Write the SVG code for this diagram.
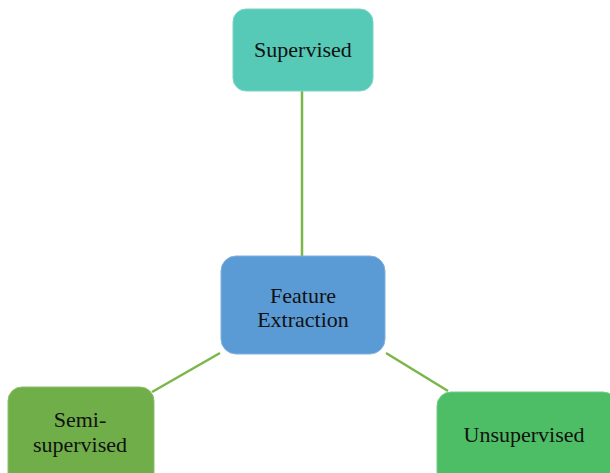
<svg xmlns="http://www.w3.org/2000/svg" width="610" height="473" viewBox="0 0 610 473">
<style>
.lbl{font-family:"Liberation Serif","Times New Roman",serif;font-size:22px;fill:#111;text-anchor:middle}
.conn{stroke:#7AB648;stroke-width:2.5;fill:none}
</style>
<rect width="610" height="473" fill="#fff"/>
<g id="connectors">
<line class="conn" x1="302" y1="91" x2="302" y2="256"/>
<line class="conn" x1="220" y1="353" x2="152" y2="392"/>
<line class="conn" x1="386" y1="353" x2="448" y2="391"/>
</g>
<g id="supervised">
<rect x="233" y="9" width="140" height="82" rx="13" fill="#56CAB6" stroke="#7AD6C6" stroke-width="1"/>
<text class="lbl" x="303" y="57">Supervised</text>
</g>
<g id="feature-extraction">
<rect x="221" y="256" width="164" height="98" rx="15" fill="#5B9BD5" stroke="#7FB0DE" stroke-width="1"/>
<text class="lbl" x="303" y="303">Feature</text>
<text class="lbl" x="303" y="327">Extraction</text>
</g>
<g id="semi-supervised">
<rect x="8" y="387" width="146" height="100" rx="14" fill="#6FAE48" stroke="#8DC06A" stroke-width="1"/>
<text class="lbl" x="80" y="427">Semi-</text>
<text class="lbl" x="80" y="452">supervised</text>
</g>
<g id="unsupervised">
<rect x="437" y="392" width="180" height="100" rx="14" fill="#4EBE66" stroke="#72CC86" stroke-width="1"/>
<text class="lbl" x="524" y="442">Unsupervised</text>
</g>
</svg>
